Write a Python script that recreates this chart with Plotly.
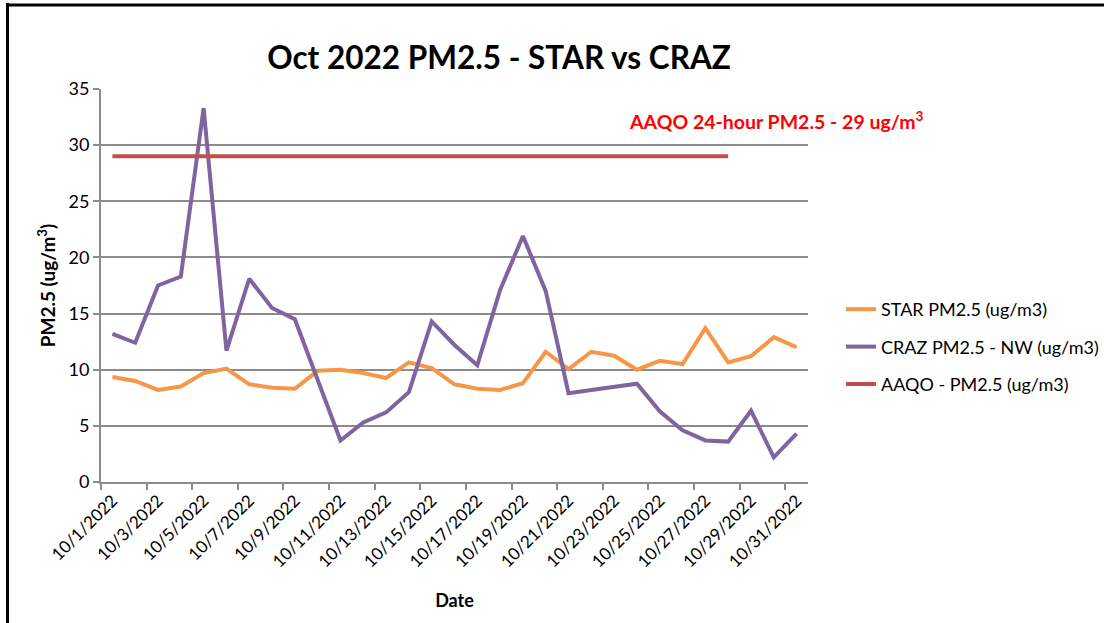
import plotly.graph_objects as go

dates = [f"10/{d}/2022" for d in range(1, 32)]

star = [9.35, 9.0, 8.2, 8.5, 9.7, 10.1, 8.7, 8.4, 8.3, 9.9,
        10.0, 9.7, 9.26, 10.66, 10.15, 8.7, 8.3, 8.2, 8.8, 11.6,
        10.06, 11.6, 11.25, 10.0, 10.8, 10.5, 13.7, 10.65, 11.2, 12.9, 12.0]

craz = [13.2, 12.4, 17.5, 18.3, 33.3, 11.7, 18.1, 15.5, 14.5, 9.1,
        3.7, 5.3, 6.2, 8.0, 14.3, 12.2, 10.4, 17.1, 21.9, 17.0,
        7.9, 8.2, 8.5, 8.75, 6.3, 4.6, 3.7, 3.6, 6.35, 2.2, 4.3]

aaqo_dates = dates[:28]
aaqo = [29] * 28

FONT = "Lato"
GRID = "#8c8c8c"

fig = go.Figure()
fig.add_trace(go.Scatter(x=dates, y=star, mode="lines", name="STAR PM2.5 (ug/m3)",
                         line=dict(color="#F79646", width=4), legendgroup="a"))
fig.add_trace(go.Scatter(x=dates, y=craz, mode="lines", name="CRAZ PM2.5 - NW (ug/m3)",
                         line=dict(color="#8064A2", width=4), legendgroup="b"))
fig.add_trace(go.Scatter(x=aaqo_dates, y=aaqo, mode="lines", name="AAQO - PM2.5 (ug/m3)",
                         line=dict(color="#C0504D", width=4), legendgroup="c"))

L, T = 101, 89
W, H = 1104, 623
R = W - 808
B = H - 482
pw = W - L - R
ph = H - T - B

def px(x):
    return (x - L) / pw

def py(y):
    return (H - B - y) / ph

fig.update_layout(
    width=W, height=H,
    margin=dict(l=L, r=R, t=T, b=B, autoexpand=False),
    paper_bgcolor="white", plot_bgcolor="white",
    font=dict(family=FONT, size=17, color="#000000"),
    title=dict(text="<b>Oct 2022 PM2.5 - STAR vs CRAZ</b>", x=px(499), xref="paper",
               xanchor="center", y=1 - 58 / H, yref="container", yanchor="middle",
               font=dict(family=FONT, size=31.5, color="#000000")),
    showlegend=True,
    legend=dict(x=px(841), xanchor="left", y=py(291), yanchor="top",
                font=dict(family=FONT, size=18, color="#000000"),
                tracegroupgap=11, bgcolor="rgba(0,0,0,0)"),
    xaxis=dict(type="category", range=[-0.5, 30.5], tickmode="linear", tick0=0, dtick=2,
               tickson="boundaries", ticks="outside", ticklen=6, tickcolor=GRID, tickwidth=2,
               showline=True, linecolor=GRID, linewidth=2, showgrid=False, automargin=False,
               tickangle=-45, tickfont=dict(family=FONT, size=17, color="#000000"),
               title=dict(text="<b>Date</b>", standoff=24,
                          font=dict(family=FONT, size=18, color="#000000"))),
    yaxis=dict(range=[0, 35], tickmode="linear", tick0=0, dtick=5, automargin=False,
               ticks="outside", ticklen=6, tickcolor=GRID, tickwidth=2,
               showline=True, linecolor=GRID, linewidth=2,
               showgrid=True, gridcolor=GRID, gridwidth=2, zeroline=False,
               tickfont=dict(family=FONT, size=18, color="#000000"),
               title=dict(text="<b>PM2.5 (ug/m<sup>3</sup>)</b>", standoff=8,
                          font=dict(family=FONT, size=19, color="#000000"))),
    annotations=[dict(text="<b>AAQO 24-hour PM2.5 - 29 ug/m<sup>3</sup></b>",
                      x=px(776), y=py(121), xref="paper", yref="paper",
                      xanchor="center", yanchor="middle", showarrow=False,
                      font=dict(family=FONT, size=19.5, color="#FF0000"))],
    shapes=[
        dict(type="line", xref="paper", yref="paper", x0=px(7.5), x1=px(7.5),
             y0=py(3), y1=py(630), line=dict(color="black", width=3)),
        dict(type="line", xref="paper", yref="paper", x0=px(6), x1=px(1110),
             y0=py(5), y1=py(5), line=dict(color="black", width=3)),
    ],
)

fig.write_html("out.html", config={"displayModeBar": False},
               post_script="document.body.style.margin='0';")
